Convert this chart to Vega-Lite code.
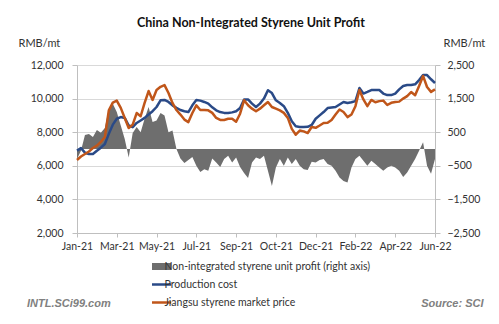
{
  "$schema": "https://vega.github.io/schema/vega-lite/v6.json",
  "autosize": "none",
  "width": 358,
  "height": 168,
  "padding": {"left": 77, "top": 65, "right": 64, "bottom": 91},
  "background": "white",
  "config": {
    "view": {"stroke": null},
    "font": "Lato",
    "axis": {"labelFont": "Lato", "titleFont": "Lato", "labelColor": "#333333", "titleColor": "#333333", "labelOverlap": false, "labelFlush": false}
  },
  "title": {"text": "China Non-Integrated Styrene Unit Profit", "font": "Lato", "fontSize": 12.5, "fontWeight": "bold", "color": "#111111", "anchor": "middle", "dx": -5, "offset": 8},
  "data": {"values": [
    {"d": "2021-01-04", "cost": 6900, "price": 6345, "profit": -300},
    {"d": "2021-01-10", "cost": 7050, "price": 6550, "profit": -50},
    {"d": "2021-01-16", "cost": 6780, "price": 6700, "profit": 417},
    {"d": "2021-01-22", "cost": 6700, "price": 6850, "profit": 450},
    {"d": "2021-01-28", "cost": 6700, "price": 7060, "profit": 357},
    {"d": "2021-02-03", "cost": 6900, "price": 7200, "profit": 565},
    {"d": "2021-02-09", "cost": 7080, "price": 7420, "profit": 480},
    {"d": "2021-02-15", "cost": 7300, "price": 7710, "profit": 625},
    {"d": "2021-02-21", "cost": 7900, "price": 9300, "profit": 1200},
    {"d": "2021-02-27", "cost": 8450, "price": 9760, "profit": 1350},
    {"d": "2021-03-05", "cost": 8800, "price": 9880, "profit": 1100},
    {"d": "2021-03-11", "cost": 8900, "price": 9450, "profit": 700},
    {"d": "2021-03-17", "cost": 8850, "price": 8850, "profit": 300},
    {"d": "2021-03-23", "cost": 8400, "price": 8250, "profit": -250},
    {"d": "2021-03-29", "cost": 8300, "price": 8450, "profit": 476},
    {"d": "2021-04-04", "cost": 8550, "price": 9140, "profit": 655},
    {"d": "2021-04-10", "cost": 8700, "price": 8950, "profit": 500},
    {"d": "2021-04-16", "cost": 8850, "price": 9740, "profit": 900},
    {"d": "2021-04-22", "cost": 9050, "price": 10450, "profit": 1250},
    {"d": "2021-04-28", "cost": 9250, "price": 9920, "profit": 800},
    {"d": "2021-05-04", "cost": 9500, "price": 10510, "profit": 850},
    {"d": "2021-05-10", "cost": 9900, "price": 10700, "profit": 1070},
    {"d": "2021-05-16", "cost": 9920, "price": 10800, "profit": 1000},
    {"d": "2021-05-22", "cost": 9800, "price": 10330, "profit": 500},
    {"d": "2021-05-28", "cost": 9600, "price": 9740, "profit": 550},
    {"d": "2021-06-03", "cost": 9450, "price": 9320, "profit": 0},
    {"d": "2021-06-09", "cost": 9320, "price": 9050, "profit": -280},
    {"d": "2021-06-15", "cost": 9250, "price": 8750, "profit": -417},
    {"d": "2021-06-21", "cost": 9200, "price": 8600, "profit": -327},
    {"d": "2021-06-27", "cost": 9600, "price": 9140, "profit": -238},
    {"d": "2021-07-03", "cost": 9920, "price": 9600, "profit": -500},
    {"d": "2021-07-09", "cost": 9880, "price": 9320, "profit": -684},
    {"d": "2021-07-15", "cost": 9800, "price": 9320, "profit": -600},
    {"d": "2021-07-21", "cost": 9700, "price": 9300, "profit": -650},
    {"d": "2021-07-27", "cost": 9480, "price": 9150, "profit": -280},
    {"d": "2021-08-02", "cost": 9300, "price": 8850, "profit": -400},
    {"d": "2021-08-08", "cost": 9200, "price": 8730, "profit": -536},
    {"d": "2021-08-14", "cost": 9150, "price": 8730, "profit": -300},
    {"d": "2021-08-20", "cost": 9140, "price": 8800, "profit": -200},
    {"d": "2021-08-26", "cost": 9180, "price": 8800, "profit": -400},
    {"d": "2021-09-01", "cost": 9250, "price": 8620, "profit": -250},
    {"d": "2021-09-07", "cost": 9440, "price": 9100, "profit": -536},
    {"d": "2021-09-13", "cost": 9950, "price": 9900, "profit": -714},
    {"d": "2021-09-19", "cost": 9950, "price": 9600, "profit": -863},
    {"d": "2021-09-25", "cost": 9700, "price": 9400, "profit": -400},
    {"d": "2021-10-01", "cost": 9500, "price": 9250, "profit": -250},
    {"d": "2021-10-07", "cost": 9700, "price": 9400, "profit": -300},
    {"d": "2021-10-13", "cost": 10000, "price": 9600, "profit": -200},
    {"d": "2021-10-19", "cost": 10500, "price": 9800, "profit": -650},
    {"d": "2021-10-25", "cost": 10330, "price": 9500, "profit": -1100},
    {"d": "2021-10-31", "cost": 9900, "price": 9400, "profit": -550},
    {"d": "2021-11-06", "cost": 9740, "price": 9300, "profit": -300},
    {"d": "2021-11-12", "cost": 9550, "price": 9150, "profit": -500},
    {"d": "2021-11-18", "cost": 9150, "price": 8850, "profit": -250},
    {"d": "2021-11-24", "cost": 8650, "price": 8200, "profit": -450},
    {"d": "2021-11-30", "cost": 8350, "price": 7850, "profit": -300},
    {"d": "2021-12-06", "cost": 8310, "price": 8100, "profit": -500},
    {"d": "2021-12-12", "cost": 8310, "price": 8050, "profit": -600},
    {"d": "2021-12-18", "cost": 8320, "price": 7950, "profit": -625},
    {"d": "2021-12-24", "cost": 8430, "price": 8310, "profit": -380},
    {"d": "2021-12-30", "cost": 8800, "price": 8260, "profit": -400},
    {"d": "2022-01-05", "cost": 9000, "price": 8400, "profit": -330},
    {"d": "2022-01-11", "cost": 9200, "price": 8550, "profit": -300},
    {"d": "2022-01-17", "cost": 9440, "price": 8560, "profit": -450},
    {"d": "2022-01-23", "cost": 9470, "price": 8730, "profit": -500},
    {"d": "2022-01-29", "cost": 9500, "price": 9050, "profit": -650},
    {"d": "2022-02-04", "cost": 9650, "price": 9350, "profit": -850},
    {"d": "2022-02-10", "cost": 9800, "price": 9200, "profit": -950},
    {"d": "2022-02-16", "cost": 9740, "price": 8900, "profit": -1000},
    {"d": "2022-02-22", "cost": 9780, "price": 9050, "profit": -550},
    {"d": "2022-02-28", "cost": 9850, "price": 9550, "profit": -300},
    {"d": "2022-03-06", "cost": 10630, "price": 10510, "profit": -200},
    {"d": "2022-03-12", "cost": 10300, "price": 9950, "profit": -350},
    {"d": "2022-03-18", "cost": 10400, "price": 9550, "profit": -500},
    {"d": "2022-03-24", "cost": 10510, "price": 9920, "profit": -350},
    {"d": "2022-03-30", "cost": 10510, "price": 9780, "profit": -450},
    {"d": "2022-04-05", "cost": 10510, "price": 9850, "profit": -550},
    {"d": "2022-04-11", "cost": 10300, "price": 9880, "profit": -650},
    {"d": "2022-04-17", "cost": 10210, "price": 9620, "profit": -550},
    {"d": "2022-04-23", "cost": 10210, "price": 9750, "profit": -500},
    {"d": "2022-04-29", "cost": 10300, "price": 9800, "profit": -550},
    {"d": "2022-05-05", "cost": 10550, "price": 9820, "profit": -650},
    {"d": "2022-05-11", "cost": 10750, "price": 10000, "profit": -830},
    {"d": "2022-05-17", "cost": 10810, "price": 10150, "profit": -700},
    {"d": "2022-05-23", "cost": 10810, "price": 10390, "profit": -500},
    {"d": "2022-05-29", "cost": 10850, "price": 10200, "profit": -300},
    {"d": "2022-06-04", "cost": 11100, "price": 10750, "profit": -50},
    {"d": "2022-06-10", "cost": 11400, "price": 11350, "profit": 200},
    {"d": "2022-06-16", "cost": 11400, "price": 10690, "profit": -500},
    {"d": "2022-06-22", "cost": 11150, "price": 10400, "profit": -740},
    {"d": "2022-06-28", "cost": 10930, "price": 10550, "profit": -300}
  ]},
  "encoding": {
    "x": {
      "field": "d", "type": "temporal",
      "scale": {"type": "utc", "domain": [{"year": 2021, "month": 1, "date": 4, "utc": true}, {"year": 2022, "month": 6, "date": 28, "utc": true}]},
      "axis": {
        "values": [
          {"year": 2021, "month": 1, "date": 4, "utc": true},
          {"year": 2021, "month": 3, "date": 5, "utc": true},
          {"year": 2021, "month": 5, "date": 4, "utc": true},
          {"year": 2021, "month": 7, "date": 3, "utc": true},
          {"year": 2021, "month": 9, "date": 1, "utc": true},
          {"year": 2021, "month": 10, "date": 31, "utc": true},
          {"year": 2021, "month": 12, "date": 30, "utc": true},
          {"year": 2022, "month": 2, "date": 28, "utc": true},
          {"year": 2022, "month": 4, "date": 29, "utc": true},
          {"year": 2022, "month": 6, "date": 28, "utc": true}
        ],
        "format": "%b-%y",
        "labelFontSize": 10.5,
        "labelPadding": 4,
        "grid": false,
        "tickSize": 4,
        "tickColor": "#bfbfbf",
        "domainColor": "#bfbfbf",
        "title": "Source: SCI",
        "titleFont": "Liberation Sans",
        "titleFontSize": 11,
        "titleFontStyle": "italic",
        "titleFontWeight": "bold",
        "titleColor": "#808080",
        "titleAlign": "right",
        "titleAnchor": null,
        "titleX": 406,
        "titleY": 70,
        "titleBaseline": "middle"
      }
    }
  },
  "layer": [
    {
      "mark": {"type": "area", "interpolate": "linear"},
      "encoding": {
        "y": {
          "field": "profit", "type": "quantitative",
          "scale": {"domain": [-2500, 2500], "nice": false, "zero": false},
          "axis": {
            "orient": "right",
            "values": [-2500, -1500, -500, 500, 1500, 2500],
            "format": ",.0f",
            "grid": false,
            "labelFontSize": 10.5,
            "labelPadding": 7,
            "tickSize": 5,
            "tickColor": "#bfbfbf",
            "domainColor": "#bfbfbf",
            "title": "RMB/mt",
            "titleAngle": 0,
            "titleFontSize": 11,
            "titleFontWeight": "normal",
            "titleAlign": "left",
            "titleBaseline": "middle",
            "titleX": 8,
            "titleY": -22
          }
        },
        "y2": {"datum": 0},
        "color": {
          "datum": "Non-integrated styrene unit profit (right axis)",
          "scale": {
            "domain": ["Non-integrated styrene unit profit (right axis)", "Production cost", "Jiangsu styrene market price"],
            "range": ["#6e6e6e", "#2a4a87", "#c0561a"]
          },
          "legend": {
            "orient": "none",
            "legendX": -50,
            "legendY": 195,
            "direction": "vertical",
            "title": "INTL.SCi99.com",
            "titleOrient": "left",
            "titleAnchor": "end",
            "titleFont": "Liberation Sans",
            "titleFontSize": 11,
            "titleFontStyle": "italic",
            "titleFontWeight": "bold",
            "titleColor": "#808080",
            "titlePadding": 41,
            "padding": 0,
            "symbolType": "stroke",
            "symbolSize": 784,
            "symbolStrokeWidth": 2.5,
            "clipHeight": 13,
            "labelFont": "Lato",
            "labelFontSize": 10.5,
            "labelColor": "#333333",
            "labelOffset": 2,
            "labelLimit": 400,
            "rowPadding": 5,
            "encode": {
              "symbols": {"update": {"strokeWidth": {"signal": "datum.value === 'Non-integrated styrene unit profit (right axis)' ? 7 : 2.5"}}}
            }
          }
        }
      }
    },
    {
      "encoding": {
        "y": {
          "type": "quantitative",
          "scale": {"domain": [2000, 12000], "nice": false, "zero": false},
          "axis": {
            "orient": "left",
            "values": [2000, 4000, 6000, 8000, 10000, 12000],
            "format": ",.0f",
            "grid": true,
            "gridColor": "#d9d9d9",
            "labelFontSize": 10.5,
            "labelPadding": 9,
            "tickSize": 5,
            "tickColor": "#bfbfbf",
            "domainColor": "#bfbfbf",
            "title": "RMB/mt",
            "titleAngle": 0,
            "titleFontSize": 11,
            "titleFontWeight": "normal",
            "titleAlign": "left",
            "titleBaseline": "middle",
            "titleX": -59,
            "titleY": -22
          }
        }
      },
      "layer": [
        {
          "mark": {"type": "line", "strokeWidth": 2.5, "strokeJoin": "round"},
          "encoding": {
            "y": {"field": "cost"},
            "color": {"datum": "Production cost"}
          }
        },
        {
          "mark": {"type": "line", "strokeWidth": 2.5, "strokeJoin": "round"},
          "encoding": {
            "y": {"field": "price"},
            "color": {"datum": "Jiangsu styrene market price"}
          }
        }
      ]
    }
  ],
  "resolve": {"scale": {"y": "independent"}}
}
